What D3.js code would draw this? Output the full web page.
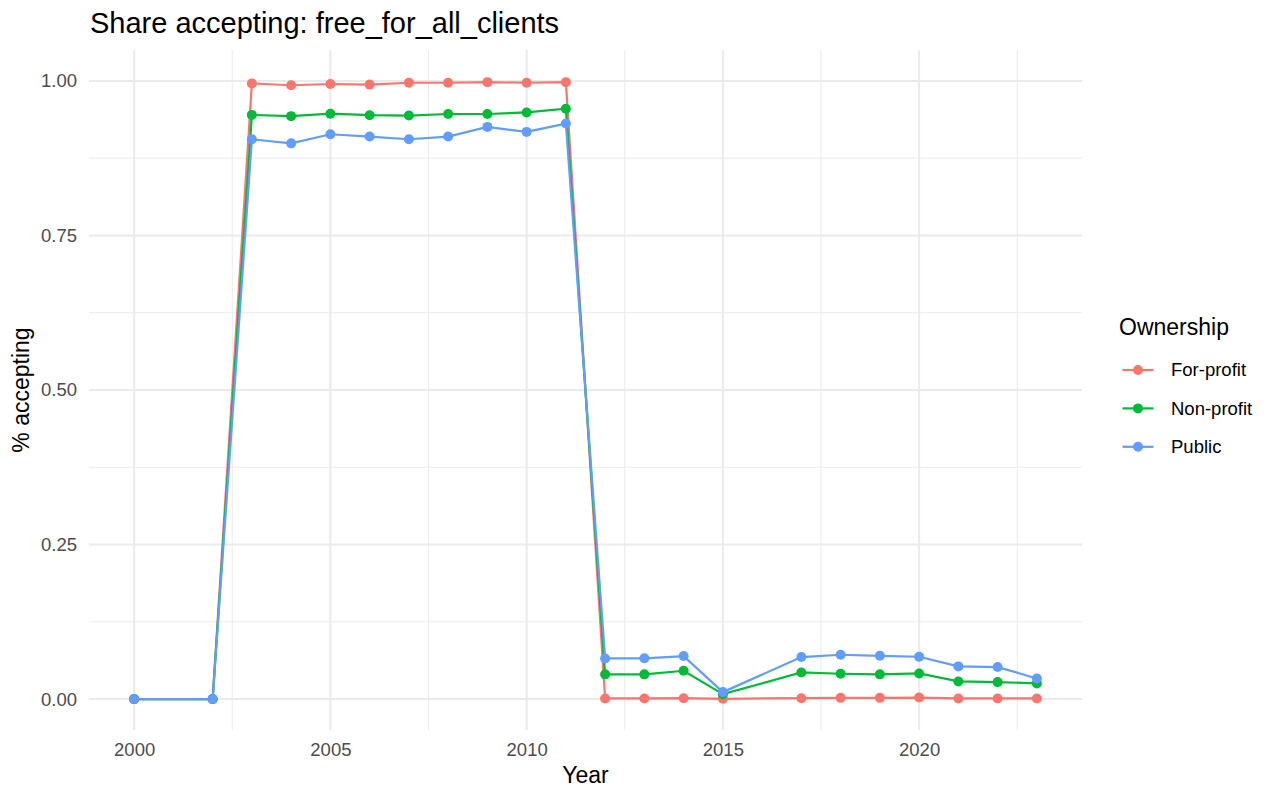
<!DOCTYPE html>
<html>
<head>
<meta charset="utf-8">
<script src="https://cdn.jsdelivr.net/npm/d3@7"></script>
<style>
  body { margin: 0; background: #fff; }
  text { font-family: "Liberation Sans", Arial, sans-serif; }
</style>
</head>
<body>
<div class="chart"></div>
<script>
var years = [2000, 2002, 2003, 2004, 2005, 2006, 2007, 2008, 2009, 2010, 2011, 2012, 2013, 2014, 2015,
  2017, 2018, 2019, 2020, 2021, 2022, 2023];
var forProfit = [0, 0, 0.996, 0.993, 0.995, 0.994, 0.997, 0.997, 0.998, 0.997, 0.998,
  0.001, 0.001, 0.0015, 0.0005, 0.0015, 0.002, 0.002, 0.0025, 0.001, 0.001, 0.001];
var nonProfit = [0, 0, 0.945, 0.943, 0.947, 0.9445, 0.944, 0.9465, 0.9465, 0.949, 0.955,
  0.040, 0.040, 0.0458, 0.008, 0.0431, 0.041, 0.040, 0.0415, 0.0286, 0.0275, 0.0254];
var publicOwn = [0, 0, 0.9056, 0.899, 0.9137, 0.910, 0.9056, 0.910, 0.9256, 0.9175, 0.931,
  0.0658, 0.066, 0.0696, 0.0113, 0.068, 0.0717, 0.070, 0.0685, 0.0529, 0.0518, 0.0334];
var seriesNames = ['For-profit', 'Non-profit', 'Public'];
var seriesColors = ['#F8766D', '#00BA38', '#619CFF'];
var xTicks = [2000, 2005, 2010, 2015, 2020];
var yTicks = [0, 0.25, 0.5, 0.75, 1];

var series = [forProfit, nonProfit, publicOwn].map((vals, i) => ({
  name: seriesNames[i],
  color: seriesColors[i],
  values: years.map((y, j) => ({ year: y, value: vals[j] }))
}));

var W = 1280, H = 800;
var margin = { top: 50, right: 198, bottom: 70, left: 89 };
var width = W - margin.left - margin.right;
var height = H - margin.top - margin.bottom;

var svg = d3.select('.chart')
  .append('svg')
    .attr('width', W)
    .attr('height', H);

var g = svg.append('g')
  .attr('transform', 'translate(' + margin.left + ',' + margin.top + ')');

var xPad = (2023 - 2000) * 0.05;
var xScale = d3.scaleLinear()
  .domain([2000 - xPad, 2023 + xPad])
  .range([0, width]);

var yScale = d3.scaleLinear()
  .domain([-0.05, 1.05])
  .range([height, 0]);

// minor grid
var xMinor = [2002.5, 2007.5, 2012.5, 2017.5, 2022.5];
var yMinor = [0.125, 0.375, 0.625, 0.875];
g.selectAll('.xminor').data(xMinor).enter().append('line')
  .attr('x1', d => xScale(d)).attr('x2', d => xScale(d))
  .attr('y1', 0).attr('y2', height)
  .style('stroke', '#EBEBEB').style('stroke-width', 1);
g.selectAll('.yminor').data(yMinor).enter().append('line')
  .attr('y1', d => yScale(d)).attr('y2', d => yScale(d))
  .attr('x1', 0).attr('x2', width)
  .style('stroke', '#EBEBEB').style('stroke-width', 1);

// major grid
g.selectAll('.xmajor').data(xTicks).enter().append('line')
  .attr('x1', d => xScale(d)).attr('x2', d => xScale(d))
  .attr('y1', 0).attr('y2', height)
  .style('stroke', '#EBEBEB').style('stroke-width', 2);
g.selectAll('.ymajor').data(yTicks).enter().append('line')
  .attr('y1', d => yScale(d)).attr('y2', d => yScale(d))
  .attr('x1', 0).attr('x2', width)
  .style('stroke', '#EBEBEB').style('stroke-width', 2);

// axes (text only)
var xAxis = g.append('g')
  .attr('transform', `translate(0, ${height})`)
  .call(d3.axisBottom(xScale).tickValues(xTicks).tickFormat(d3.format('d')).tickSize(0));
var yAxis = g.append('g')
  .call(d3.axisLeft(yScale).tickValues(yTicks).tickFormat(d3.format('.2f')).tickSize(0).tickPadding(12));
[xAxis, yAxis].forEach(a => {
  a.select('.domain').remove();
  a.selectAll('text')
    .style('font-size', '18.5px')
    .style('fill', '#4D4D4D')
    .style('font-family', '"Liberation Sans", Arial, sans-serif');
});
xAxis.selectAll('text').attr('dy', null).attr('y', 26);

var line = d3.line()
  .x(d => xScale(d.year))
  .y(d => yScale(d.value));

series.forEach(s => {
  g.append('path')
    .datum(s.values)
    .attr('d', line)
    .style('fill', 'none')
    .style('stroke', s.color)
    .style('stroke-width', 2.2);
  g.selectAll(null).data(s.values).enter().append('circle')
    .attr('cx', d => xScale(d.year))
    .attr('cy', d => yScale(d.value))
    .attr('r', 5)
    .style('fill', s.color);
});

// titles
svg.append('text')
  .attr('x', 90).attr('y', 33)
  .style('font-size', '29px')
  .style('fill', '#000')
  .text('Share accepting: free_for_all_clients');

svg.append('text')
  .attr('x', margin.left + width / 2).attr('y', 783)
  .attr('text-anchor', 'middle')
  .style('font-size', '23px')
  .text('Year');

svg.append('text')
  .attr('transform', 'translate(29,' + (margin.top + height / 2) + ') rotate(-90)')
  .attr('text-anchor', 'middle')
  .style('font-size', '23px')
  .text('% accepting');

// legend
var legend = svg.append('g').attr('transform', 'translate(1119, 0)');
legend.append('text')
  .attr('x', 0).attr('y', 335)
  .style('font-size', '23px')
  .text('Ownership');
var items = legend.selectAll('.item').data(series).enter().append('g')
  .attr('transform', (d, i) => 'translate(0,' + (370 + i * 38.4) + ')');
items.append('line')
  .attr('x1', 3.5).attr('x2', 34.5)
  .style('stroke', d => d.color).style('stroke-width', 2.2);
items.append('circle')
  .attr('cx', 19).attr('r', 5)
  .style('fill', d => d.color);
items.append('text')
  .attr('x', 52).attr('dy', '0.35em')
  .style('font-size', '18.5px')
  .text(d => d.name);
</script>
</body>
</html>
